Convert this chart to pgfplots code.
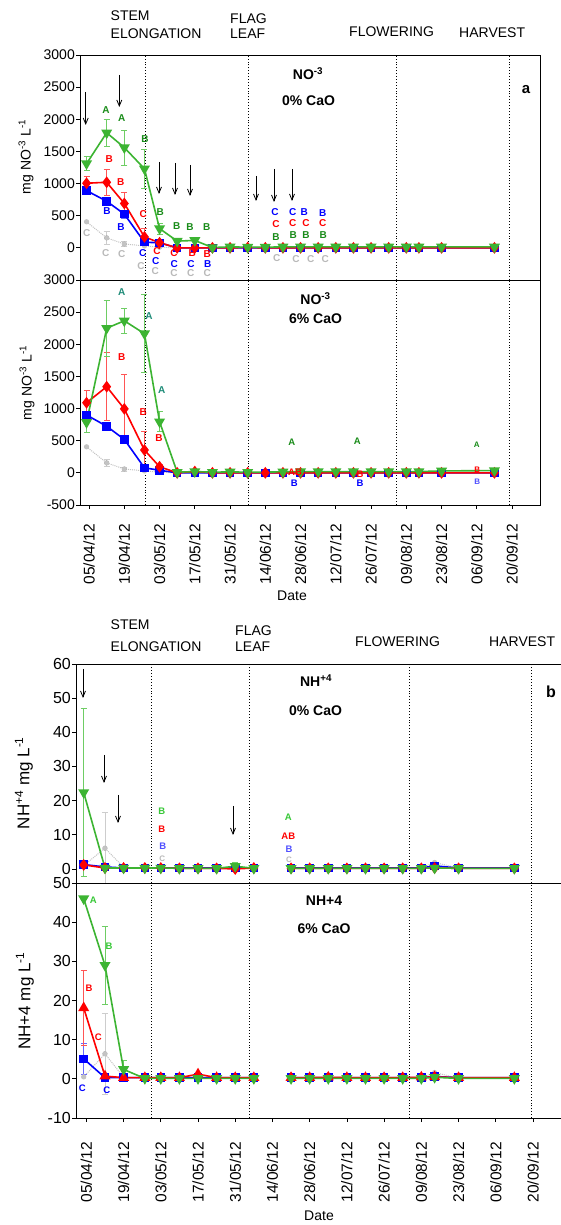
\documentclass[border=0pt]{standalone}
\usepackage{fontspec}
\setmainfont{Liberation Sans}
\usepackage{pgfplots}
\pgfplotsset{compat=1.18}
\usetikzlibrary{arrows.meta}

\definecolor{sgreen}{RGB}{60,180,50}
\definecolor{sgreenE}{RGB}{110,205,100}
\definecolor{sred}{RGB}{255,0,0}
\definecolor{sredE}{RGB}{255,85,85}
\definecolor{sblue}{RGB}{0,0,255}
\definecolor{sblueE}{RGB}{105,105,255}
\definecolor{sgray}{RGB}{195,195,195}
\definecolor{sgrayE}{RGB}{205,205,205}
\definecolor{lgreen}{RGB}{25,140,25}
\definecolor{lteal}{RGB}{30,140,120}
\definecolor{lgray}{RGB}{185,185,185}
\definecolor{bgreen}{RGB}{55,200,55}
\definecolor{bblue}{RGB}{80,80,255}

\pgfplotsset{
  panel/.style={scale only axis, anchor=south west,
    axis line style={black, line width=0.8pt},
    tick align=outside, tick pos=left, major tick length=4pt,
    tick style={black, line width=0.7pt},
    unbounded coords=jump,
    yticklabel style={font=\fontsize{#1}{#1}\selectfont, inner sep=1pt},
    xticklabel style={font=\fontsize{15.5}{15.5}\selectfont, rotate=90, anchor=east, inner sep=2pt}},
  gser/.style={color=sgreen, line width=1.6pt, mark=triangle*, mark size=4.8pt, mark options={rotate=180, solid}},
  rser/.style={color=sred, line width=1.6pt, mark=diamond*, mark size=4.6pt, mark options={solid}},
  rtri/.style={color=sred, line width=1.6pt, mark=triangle*, mark size=4.8pt, mark options={solid}},
  bser/.style={color=sblue, line width=1.6pt, mark=square*, mark size=3.5pt, mark options={solid}},
  yser/.style={color=sgray, line width=1pt, densely dotted, mark=*, mark size=2.1pt, mark options={solid}},
  errs/.style={only marks, mark=none, forget plot,
    error bars/.cd, y dir=both, y explicit,
    error bar style={draw=#1, line width=0.8pt, solid},
    error mark options={rotate=90, draw=#1, mark size=3pt, line width=0.8pt}},
}

\tikzset{
  la/.style={font=\fontsize{10}{10}\bfseries\selectfont, inner sep=0pt},
  lb/.style={font=\fontsize{9.5}{9.5}\bfseries\selectfont, inner sep=0pt},
  ls/.style={font=\fontsize{8}{8}\bfseries\selectfont, inner sep=0pt},
  stage/.style={font=\fontsize{14}{14}\selectfont, anchor=west, inner sep=0pt},
  ttl/.style={font=\fontsize{14}{14}\bfseries\selectfont, inner sep=0pt},
  arr/.style={black, line width=0.8pt, -{Straight Barb[length=6pt,width=5pt]}},
}

\begin{document}
\begin{tikzpicture}
\useasboundingbox (0,0) rectangle (560pt,1225pt);
\fill[white] (0,0) rectangle (560pt,1225pt);

% ---------------- NO3, 0% CaO ----------------
\begin{axis}[panel=14, at={(80pt,945pt)}, width=460pt, height=225pt,
  xmin=-3.6, xmax=179.1, ymin=-500, ymax=3000,
  ytick={0,500,1000,1500,2000,2500,3000},
  yticklabels={0,500,1000,1500,2000,2500,3000}, xtick=\empty]
\draw[black, dotted, line width=0.9pt] (22.2,-500) -- (22.2,3000);
\draw[black, dotted, line width=0.9pt] (63.5,-500) -- (63.5,3000);
\draw[black, dotted, line width=0.9pt] (121.9,-500) -- (121.9,3000);
\draw[black, dotted, line width=0.9pt] (166.8,-500) -- (166.8,3000);
\addplot[errs=sgrayE] coordinates {(7,155) +- (0,95) (14,60) +- (0,35)};
\addplot[yser] coordinates {(-1,405)(7,155)(14,60)(22,30)(28,10)(35,0)(42,0)(49,0)(56,0)(63,0)(70,0)(77,0)(84,0)(91,0)(98,0)(105,0)(112,0)(119,0)(126,0)(131,0)(140,0)(161,0)};
\addplot[errs=sblueE] coordinates {(-1,890) +- (0,40) (7,725) +- (0,55) (14,525) +- (0,65) (22,88) +- (0,20)};
\addplot[bser] coordinates {(-1,890)(7,725)(14,525)(22,88)(28,78)(35,0)(42,0)(49,0)(56,0)(63,0)(70,0)(77,0)(84,0)(91,0)(98,0)(105,0)(112,0)(119,0)(126,0)(131,0)(140,0)(161,0)};
\addplot[errs=sredE] coordinates {(-1,1005) +- (0,100) (7,1020) +- (0,200) (14,690) +- (0,175) (22,170) +- (0,130) (28,80) +- (0,20)};
\addplot[rser] coordinates {(-1,1005)(7,1020)(14,690)(22,170)(28,80)(35,0)(42,0)(49,0)(56,0)(63,5)(70,0)(77,0)(84,0)(91,0)(98,0)(105,0)(112,0)(119,0)(126,0)(131,0)(140,0)(161,0)};
\addplot[errs=sgreenE] coordinates {(-1,1310) +- (0,110) (7,1790) +- (0,210) (14,1560) +- (0,270) (22,1230) +- (0,300) (28,300) +- (0,85) (35,105) +- (0,15) (42,115) +- (0,15)};
\addplot[gser] coordinates {(-1,1310)(7,1790)(14,1560)(22,1230)(28,300)(35,105)(42,115)(49,5)(56,15)(63,10)(70,10)(77,15)(84,15)(91,15)(98,15)(105,15)(112,15)(119,15)(126,15)(131,15)(140,15)(161,15)};
\end{axis}

% ---------------- NO3, 6% CaO ----------------
\begin{axis}[panel=14, at={(80pt,720pt)}, width=460pt, height=225pt,
  xmin=-3.6, xmax=179.1, ymin=-500, ymax=3000,
  ytick={-500,0,500,1000,1500,2000,2500,3000},
  yticklabels={-500,0,500,1000,1500,2000,2500,3000},
  xticklabel shift=13pt,
  xtick={0,14,28,42,56,70,84,98,112,126,140,154,168},
  xticklabels={05/04/12,19/04/12,03/05/12,17/05/12,31/05/12,14/06/12,28/06/12,12/07/12,26/07/12,09/08/12,23/08/12,06/09/12,20/09/12}]
\draw[black, dotted, line width=0.9pt] (22.2,-500) -- (22.2,3000);
\draw[black, dotted, line width=0.9pt] (63.5,-500) -- (63.5,3000);
\draw[black, dotted, line width=0.9pt] (121.9,-500) -- (121.9,3000);
\draw[black, dotted, line width=0.9pt] (166.8,-500) -- (166.8,3000);
\addplot[errs=sgrayE] coordinates {(7,155) +- (0,60) (14,60) +- (0,30)};
\addplot[yser] coordinates {(-1,405)(7,155)(14,60)(22,30)(28,10)(35,0)(42,0)(49,0)(56,0)(63,0)(70,0)(77,0)(84,0)(91,0)(98,0)(105,0)(112,0)(119,0)(126,0)(131,0)(140,0)(161,0)};
\addplot[errs=sblueE] coordinates {(-1,900) +- (0,50) (7,725) +- (0,60) (14,520) +- (0,60)};
\addplot[bser] coordinates {(-1,900)(7,725)(14,520)(22,78)(28,40)(35,0)(42,0)(49,0)(56,0)(63,0)(70,0)(77,0)(84,0)(91,0)(98,0)(105,0)(112,0)(119,0)(126,0)(131,0)(140,0)(161,0)};
\addplot[errs=sredE] coordinates {(-1,1090) +- (0,200) (7,1340) +- (0,530) (14,995) +- (0,540) (22,355) +- (0,285) (28,95) +- (0,30)};
\addplot[rser] coordinates {(-1,1090)(7,1340)(14,995)(22,355)(28,95)(35,0)(42,20)(49,0)(56,0)(63,0)(70,0)(77,0)(84,0)(91,0)(98,0)(105,0)(112,0)(119,0)(126,0)(131,0)(140,0)(161,0)};
\addplot[errs=sgreenE] coordinates {(-1,785) +- (0,160) (7,2250) +- (0,440) (14,2365) +- (0,195) (22,2165) +- (0,610) (28,795) +- (0,155)};
\addplot[gser] coordinates {(-1,785)(7,2250)(14,2365)(22,2165)(28,795)(35,10)(42,20)(49,10)(56,15)(63,10)(77,15)(84,20)(91,20)(98,20)(105,20)(112,20)(119,20)(126,20)(131,20)(140,30)(161,35)};
\end{axis}

% ---------------- NH4, 0% CaO ----------------
\begin{axis}[panel=16, at={(76pt,342pt)}, width=487pt, height=219pt,
  xmin=-3.9, xmax=179.3, ymin=-4.1, ymax=60,
  ytick={0,10,20,30,40,50,60}, yticklabels={0,10,20,30,40,50,60},
  xtick=\empty]
\draw[black, dotted, line width=0.9pt] (24.3,-10) -- (24.3,60);
\draw[black, dotted, line width=0.9pt] (61.2,-10) -- (61.2,60);
\draw[black, dotted, line width=0.9pt] (121.4,-10) -- (121.4,60);
\draw[black, dotted, line width=0.9pt] (167.6,-10) -- (167.6,60);
\addplot[errs=sgrayE] coordinates {(7,6.1) +- (0,10.4)};
\addplot[yser] coordinates {(-1,1.0)(7,6.1)(14,0.5)(22,0.3)(28,0.3)(35,0.3)(42,0.3)(49,0.3)(56,0.3)(63,0.3)(70,nan)(77,0.3)(84,0.3)(91,0.3)(98,0.3)(105,0.3)(112,0.3)(119,0.3)(126,0.3)(131,1.9)(140,0.3)(161,0.3)};
\addplot[errs=sblueE] coordinates {(-1,1.3) +- (0,0.6)};
\addplot[bser] coordinates {(-1,1.3)(7,0.6)(14,0.3)(22,0.3)(28,0.3)(35,0.3)(42,0.3)(49,0.3)(56,0.3)(63,0.3)(70,nan)(77,0.3)(84,0.3)(91,0.3)(98,0.3)(105,0.3)(112,0.3)(119,0.3)(126,0.3)(131,0.9)(140,0.3)(161,0.3)};
\addplot[errs=sredE] coordinates {(-1,1.2) +- (0,1.0)};
\addplot[rser] coordinates {(-1,1.2)(7,0.3)(14,0.3)(22,0.3)(28,0.3)(35,0.2)(42,0.2)(49,0.2)(56,0.0)(63,0.3)(70,nan)(77,0.2)(84,0.2)(91,0.2)(98,0.2)(105,0.2)(112,0.2)(119,0.2)(126,0.2)(131,0.3)(140,0.2)(161,0.2)};
\addplot[errs=sgreenE] coordinates {(-1,22.4) +- (0,24.7) (56,0.8) +- (0,1.0)};
\addplot[gser] coordinates {(-1,22.4)(7,0.3)(14,0.3)(22,0.3)(28,0.3)(35,0.2)(42,0.2)(49,0.2)(56,0.8)(63,0.2)(70,nan)(77,0.2)(84,0.2)(91,0.2)(98,0.2)(105,0.2)(112,0.2)(119,0.2)(126,0.2)(131,0.3)(140,0.2)(161,0.2)};
\end{axis}

% ---------------- NH4, 6% CaO ----------------
\begin{axis}[panel=16, at={(76pt,107pt)}, width=487pt, height=235pt,
  xmin=-3.9, xmax=179.3, ymin=-10, ymax=50,
  ytick={-10,0,10,20,30,40,50}, yticklabels={-10,0,10,20,30,40,50},
  xticklabel shift=18pt,
  xtick={0,14,28,42,56,70,84,98,112,126,140,154,168},
  xticklabels={05/04/12,19/04/12,03/05/12,17/05/12,31/05/12,14/06/12,28/06/12,12/07/12,26/07/12,09/08/12,23/08/12,06/09/12,20/09/12}]
\draw[black, dotted, line width=0.9pt] (24.3,-10) -- (24.3,50);
\draw[black, dotted, line width=0.9pt] (61.2,-10) -- (61.2,50);
\draw[black, dotted, line width=0.9pt] (121.4,-10) -- (121.4,50);
\draw[black, dotted, line width=0.9pt] (167.6,-10) -- (167.6,50);
\addplot[errs=sgrayE] coordinates {(7,6.4) +- (0,10.4)};
\addplot[yser] coordinates {(-1,0.5)(7,6.4)(14,0.4)(22,0.2)(28,0.2)(35,0.2)(42,0.2)(49,0.2)(56,0.2)(63,0.2)(70,nan)(77,0.2)(84,0.2)(91,0.2)(98,0.2)(105,0.2)(112,0.2)(119,0.2)(126,0.2)(131,1.6)(140,0.2)(161,0.2)};
\addplot[errs=sblueE] coordinates {(-1,5.1) +- (0,4.0)};
\addplot[bser] coordinates {(-1,5.1)(7,0.3)(14,0.3)(22,0.3)(28,0.3)(35,0.3)(42,0.3)(49,0.3)(56,0.3)(63,0.3)(70,nan)(77,0.3)(84,0.3)(91,0.3)(98,0.3)(105,0.3)(112,0.3)(119,0.3)(126,0.3)(131,0.6)(140,0.3)(161,0.3)};
\addplot[errs=sredE] coordinates {(-1,18.1) +- (0,9.6)};
\addplot[rtri] coordinates {(-1,18.1)(7,0.7)(14,0.3)(22,0.3)(28,0.3)(35,0.3)(42,1.2)(49,0.3)(56,0.3)(63,0.3)(70,nan)(77,0.3)(84,0.3)(91,0.4)(98,0.3)(105,0.3)(112,0.3)(119,0.3)(126,0.4)(131,0.5)(140,0.3)(161,0.3)};
\addplot[errs=sgreenE] coordinates {(7,29) +- (0,10) (14,2.4) +- (0,2.4)};
\addplot[gser] coordinates {(-1,46)(7,29)(14,2.4)(22,0.1)(28,0.1)(35,0.1)(42,0.1)(49,0.1)(56,0.1)(63,0.1)(70,nan)(77,0.1)(84,0.1)(91,0.1)(98,0.1)(105,0.1)(112,0.1)(119,0.1)(126,0.1)(131,0.4)(140,0.1)(161,0.1)};
\end{axis}

% ---------------- annotations, laid out from the top-left corner ----------------
\begin{scope}[x=1pt, y=-1pt, yshift=1225pt]
% growth stages
\node[stage] at (110.5,16) {STEM};
\node[stage] at (110.5,34) {ELONGATION};
\node[stage] at (230,18.5) {FLAG};
\node[stage] at (230,34) {LEAF};
\node[stage] at (349,32) {FLOWERING};
\node[stage] at (459,33) {HARVEST};
\node[stage] at (110.5,625) {STEM};
\node[stage] at (110.5,647) {ELONGATION};
\node[stage] at (235,630.5) {FLAG};
\node[stage] at (235,646.5) {LEAF};
\node[stage] at (355,641.5) {FLOWERING};
\node[stage] at (489,641.5) {HARVEST};

% panel titles
\node[ttl] at (308,73.5) {NO\textsuperscript{-3}};
\node[ttl] at (308.5,101) {0\% CaO};
\node[font=\fontsize{15}{15}\bfseries\selectfont, inner sep=0pt] at (526,90) {a};
\node[ttl] at (315.5,299) {NO\textsuperscript{-3}};
\node[ttl] at (315.5,318.5) {6\% CaO};
\node[ttl] at (316,681) {NH\textsuperscript{+4}};
\node[ttl] at (315.5,711) {0\% CaO};
\node[font=\fontsize{16}{16}\bfseries\selectfont, inner sep=0pt] at (551,692) {b};
\node[ttl] at (324,900.5) {NH+4};
\node[ttl] at (324,929) {6\% CaO};

% axis titles
\node[rotate=90, font=\fontsize{14}{14}\selectfont, inner sep=0pt] at (26,157) {mg NO\textsuperscript{-3} L\textsuperscript{-1}};
\node[rotate=90, font=\fontsize{14}{14}\selectfont, inner sep=0pt] at (27,383) {mg NO\textsuperscript{-3} L\textsuperscript{-1}};
\node[rotate=90, font=\fontsize{17}{17}\selectfont, inner sep=0pt] at (24,783) {NH\textsuperscript{+4} mg L\textsuperscript{-1}};
\node[rotate=90, font=\fontsize{17}{17}\selectfont, inner sep=0pt] at (25,1001) {NH+4 mg L\textsuperscript{-1}};
\node[font=\fontsize{14}{14}\selectfont, inner sep=0pt] at (292,596) {Date};
\node[font=\fontsize{14}{14}\selectfont, inner sep=0pt] at (319,1216) {Date};

% fertiliser applications
\draw[arr] (85.7,92) -- (85.7,125);
\draw[arr] (119.3,75) -- (119.3,107);
\draw[arr] (159,162) -- (159,194);
\draw[arr] (175,163) -- (175,195);
\draw[arr] (190,165) -- (190,196);
\draw[arr] (256,176) -- (256,201);
\draw[arr] (274,169) -- (274,202);
\draw[arr] (292,169) -- (292,201);
\draw[arr] (83,669) -- (83,698);
\draw[arr] (104,755) -- (104,783);
\draw[arr] (118,795) -- (118,823);
\draw[arr] (233,806) -- (233,835);

% significance letters, NO3 0% CaO
\foreach \x/\y/\t in {106/110/A,121.7/118.3/A,145/139/B,160.3/211.7/B,176.7/226/B,190/226.7/B,206.7/226.7/B,276/237.3/B,293.3/235.3/B,306/235.3/B,323.3/234.7/B}
  \node[la, text=lgreen] at (\x,\y) {\t};
\foreach \x/\y/\t in {109.3/159/B,120.7/182.3/B,143.3/214/C,157/251/C,174/253.5/C,192.3/253.5/B,207.3/254.5/B,276/224/C,292.7/223.3/C,306/222.7/C,322.7/223.3/C}
  \node[la, text=sred] at (\x,\y) {\t};
\foreach \x/\y/\t in {107/211/B,121/226.7/B,142.7/253.3/C,155.7/260.7/C,174.3/263.8/C,191/263.8/C,207.7/263.8/B,275/212.3/C,292.7/212.3/C,304.3/212.3/B,322.7/213.3/B}
  \node[la, text=sblue] at (\x,\y) {\t};
\foreach \x/\y/\t in {86.7/233.3/C,105.7/252.7/C,121.7/254.3/C,141/266/C,155.3/271/C,174/273/C,190.7/273/C,207.3/273.5/C,276.7/258.3/C,296/259.3/C,310.7/259.3/C,325.3/259.3/C}
  \node[la, text=lgray] at (\x,\y) {\t};

% significance letters, NO3 6% CaO
\foreach \x/\y/\t in {121.7/291.7/A,149/315.7/A,161.7/390/A}
  \node[la, text=lteal] at (\x,\y) {\t};
\foreach \x/\y/\t in {121.7/356.7/B,143.3/411.7/B,159/438.3/B}
  \node[la, text=sred] at (\x,\y) {\t};
\node[lb, text=lgreen] at (291.7,442.7) {A};
\node[lb, text=lgreen] at (357.3,441.7) {A};
\node[ls, text=lgreen] at (476.7,445) {A};
\node[lb, text=sred] at (295,472.7) {AB};
\node[lb, text=sred] at (360,474) {B};
\node[ls, text=sred] at (477.3,470) {B};
\node[lb, text=sblue] at (294.3,483.3) {B};
\node[lb, text=sblue] at (360,483.3) {B};
\node[ls, text=bblue] at (477.3,481.7) {B};

% significance letters, NH4 0% CaO
\node[lb, text=bgreen] at (161.7,811.7) {B};
\node[lb, text=sred] at (161.7,829) {B};
\node[lb, text=bblue] at (162.7,846.7) {B};
\node[ls, text=lgray] at (162.3,859) {C};
\node[lb, text=bgreen] at (288.3,817.7) {A};
\node[lb, text=sred] at (288.3,836) {AB};
\node[lb, text=bblue] at (289,849.3) {B};
\node[ls, text=lgray] at (289,860) {C};

% significance letters, NH4 6% CaO
\node[lb, text=bgreen] at (93.3,900.7) {A};
\node[lb, text=bgreen] at (109,946.7) {B};
\node[lb, text=sred] at (89,988.3) {B};
\node[lb, text=sred] at (98.3,1037.7) {C};
\node[lb, text=sblue] at (82.3,1088.3) {C};
\node[lb, text=sblue] at (106.7,1090.7) {C};
\end{scope}
\end{tikzpicture}
\end{document}
